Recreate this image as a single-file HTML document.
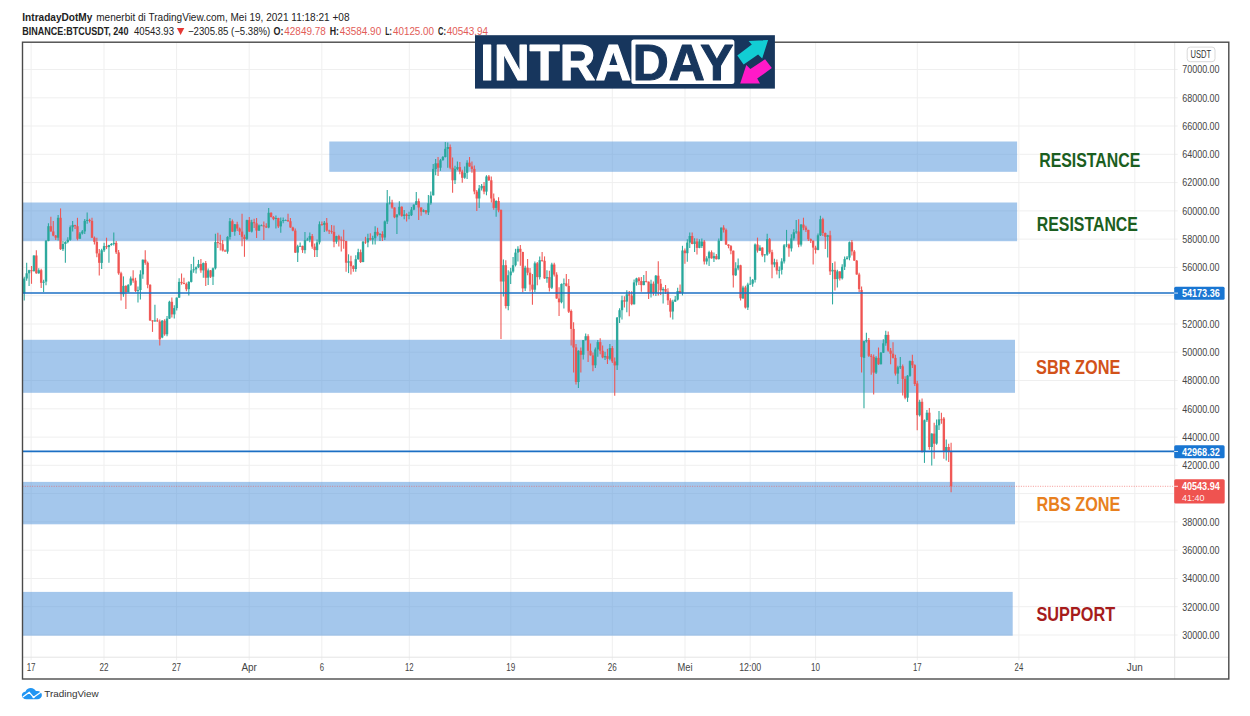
<!DOCTYPE html>
<html><head><meta charset="utf-8"><title>BTCUSDT chart</title>
<style>
html,body{margin:0;padding:0;background:#fff;}
body{width:1250px;height:716px;overflow:hidden;font-family:"Liberation Sans",sans-serif;}
svg{display:block;font-family:"Liberation Sans",sans-serif;}
.ax{font-size:10px;fill:#454545;}
.hd{font-size:10.4px;fill:#222;}
.b{font-weight:bold;}
.rd{fill:#e25c57;}
.lbl{font-weight:bold;font-size:19.3px;}
</style></head><body>
<svg width="1250" height="716" viewBox="0 0 1250 716">
<rect width="1250" height="716" fill="#fff"/>

<g stroke="#efefef" stroke-width="1">
<line x1="31.1" y1="42.2" x2="31.1" y2="660.2"/>
<line x1="104.0" y1="42.2" x2="104.0" y2="660.2"/>
<line x1="176.6" y1="42.2" x2="176.6" y2="660.2"/>
<line x1="249.2" y1="42.2" x2="249.2" y2="660.2"/>
<line x1="321.8" y1="42.2" x2="321.8" y2="660.2"/>
<line x1="409.3" y1="42.2" x2="409.3" y2="660.2"/>
<line x1="510.8" y1="42.2" x2="510.8" y2="660.2"/>
<line x1="612.3" y1="42.2" x2="612.3" y2="660.2"/>
<line x1="685.0" y1="42.2" x2="685.0" y2="660.2"/>
<line x1="750.2" y1="42.2" x2="750.2" y2="660.2"/>
<line x1="815.6" y1="42.2" x2="815.6" y2="660.2"/>
<line x1="917.3" y1="42.2" x2="917.3" y2="660.2"/>
<line x1="1018.9" y1="42.2" x2="1018.9" y2="660.2"/>
<line x1="1134.8" y1="42.2" x2="1134.8" y2="660.2"/>
<line x1="22.5" y1="69.5" x2="1177.7" y2="69.5"/>
<line x1="22.5" y1="97.8" x2="1177.7" y2="97.8"/>
<line x1="22.5" y1="126.0" x2="1177.7" y2="126.0"/>
<line x1="22.5" y1="154.3" x2="1177.7" y2="154.3"/>
<line x1="22.5" y1="182.6" x2="1177.7" y2="182.6"/>
<line x1="22.5" y1="210.9" x2="1177.7" y2="210.9"/>
<line x1="22.5" y1="239.1" x2="1177.7" y2="239.1"/>
<line x1="22.5" y1="267.4" x2="1177.7" y2="267.4"/>
<line x1="22.5" y1="295.7" x2="1177.7" y2="295.7"/>
<line x1="22.5" y1="324.0" x2="1177.7" y2="324.0"/>
<line x1="22.5" y1="352.2" x2="1177.7" y2="352.2"/>
<line x1="22.5" y1="380.5" x2="1177.7" y2="380.5"/>
<line x1="22.5" y1="408.8" x2="1177.7" y2="408.8"/>
<line x1="22.5" y1="437.1" x2="1177.7" y2="437.1"/>
<line x1="22.5" y1="465.3" x2="1177.7" y2="465.3"/>
<line x1="22.5" y1="493.6" x2="1177.7" y2="493.6"/>
<line x1="22.5" y1="521.9" x2="1177.7" y2="521.9"/>
<line x1="22.5" y1="550.2" x2="1177.7" y2="550.2"/>
<line x1="22.5" y1="578.5" x2="1177.7" y2="578.5"/>
<line x1="22.5" y1="606.7" x2="1177.7" y2="606.7"/>
<line x1="22.5" y1="635.0" x2="1177.7" y2="635.0"/>
</g>
<g stroke="#e4e4e4" stroke-width="1"><line x1="1174.7" y1="42.2" x2="1174.7" y2="679.0"/><line x1="22.5" y1="657.2" x2="1228.8" y2="657.2"/></g>
<g fill="#4a8fd9" fill-opacity="0.5">
<rect x="329.3" y="141.5" width="687.8" height="30.3"/>
<rect x="23" y="202.5" width="994.1" height="38.7"/>
<rect x="23" y="339.8" width="992.0" height="53.0"/>
<rect x="23" y="481.9" width="992.0" height="42.4"/>
<rect x="23" y="591.9" width="989.7" height="43.8"/>
</g>
<g stroke-width="1.1" stroke-opacity="0.95"><line x1="24.24" y1="276.8" x2="24.24" y2="300.5" stroke="#26a69a"/><line x1="26.66" y1="262.8" x2="26.66" y2="280.7" stroke="#26a69a"/><line x1="29.08" y1="269.8" x2="29.08" y2="285.9" stroke="#26a69a"/><line x1="31.50" y1="266.0" x2="31.50" y2="283.8" stroke="#ef5350"/><line x1="33.92" y1="255.3" x2="33.92" y2="271.5" stroke="#26a69a"/><line x1="36.34" y1="250.3" x2="36.34" y2="273.8" stroke="#ef5350"/><line x1="38.76" y1="268.3" x2="38.76" y2="273.8" stroke="#26a69a"/><line x1="41.18" y1="268.8" x2="41.18" y2="288.0" stroke="#ef5350"/><line x1="43.60" y1="279.7" x2="43.60" y2="292.1" stroke="#26a69a"/><line x1="46.02" y1="240.1" x2="46.02" y2="285.2" stroke="#26a69a"/><line x1="48.44" y1="223.3" x2="48.44" y2="241.2" stroke="#26a69a"/><line x1="50.86" y1="216.8" x2="50.86" y2="231.7" stroke="#ef5350"/><line x1="53.28" y1="220.9" x2="53.28" y2="236.2" stroke="#ef5350"/><line x1="55.70" y1="234.9" x2="55.70" y2="240.1" stroke="#ef5350"/><line x1="58.12" y1="215.0" x2="58.12" y2="240.5" stroke="#26a69a"/><line x1="60.54" y1="208.4" x2="60.54" y2="249.9" stroke="#ef5350"/><line x1="62.96" y1="240.9" x2="62.96" y2="251.1" stroke="#26a69a"/><line x1="65.38" y1="241.2" x2="65.38" y2="262.8" stroke="#26a69a"/><line x1="67.80" y1="237.2" x2="67.80" y2="243.2" stroke="#26a69a"/><line x1="70.22" y1="225.4" x2="70.22" y2="240.7" stroke="#26a69a"/><line x1="72.64" y1="220.9" x2="72.64" y2="231.5" stroke="#26a69a"/><line x1="75.06" y1="224.8" x2="75.06" y2="228.9" stroke="#ef5350"/><line x1="77.48" y1="217.8" x2="77.48" y2="240.3" stroke="#ef5350"/><line x1="79.90" y1="232.1" x2="79.90" y2="238.9" stroke="#26a69a"/><line x1="82.32" y1="229.9" x2="82.32" y2="234.5" stroke="#26a69a"/><line x1="84.74" y1="219.1" x2="84.74" y2="234.0" stroke="#26a69a"/><line x1="87.16" y1="212.6" x2="87.16" y2="223.8" stroke="#26a69a"/><line x1="89.58" y1="218.7" x2="89.58" y2="222.4" stroke="#ef5350"/><line x1="92.00" y1="217.7" x2="92.00" y2="238.0" stroke="#ef5350"/><line x1="94.42" y1="236.4" x2="94.42" y2="244.4" stroke="#ef5350"/><line x1="96.84" y1="237.8" x2="96.84" y2="257.2" stroke="#ef5350"/><line x1="99.26" y1="249.0" x2="99.26" y2="275.4" stroke="#ef5350"/><line x1="101.68" y1="248.7" x2="101.68" y2="269.1" stroke="#26a69a"/><line x1="104.10" y1="242.8" x2="104.10" y2="252.1" stroke="#26a69a"/><line x1="106.52" y1="237.7" x2="106.52" y2="249.1" stroke="#ef5350"/><line x1="108.94" y1="244.8" x2="108.94" y2="262.8" stroke="#26a69a"/><line x1="111.36" y1="243.0" x2="111.36" y2="245.7" stroke="#26a69a"/><line x1="113.78" y1="232.5" x2="113.78" y2="245.4" stroke="#26a69a"/><line x1="116.20" y1="241.1" x2="116.20" y2="254.1" stroke="#ef5350"/><line x1="118.62" y1="249.9" x2="118.62" y2="274.8" stroke="#ef5350"/><line x1="121.04" y1="271.8" x2="121.04" y2="300.5" stroke="#ef5350"/><line x1="123.46" y1="276.4" x2="123.46" y2="296.8" stroke="#26a69a"/><line x1="125.88" y1="285.3" x2="125.88" y2="308.9" stroke="#ef5350"/><line x1="128.30" y1="284.2" x2="128.30" y2="292.6" stroke="#26a69a"/><line x1="130.72" y1="276.4" x2="130.72" y2="285.7" stroke="#26a69a"/><line x1="133.14" y1="270.2" x2="133.14" y2="282.7" stroke="#ef5350"/><line x1="135.56" y1="277.8" x2="135.56" y2="291.9" stroke="#ef5350"/><line x1="137.98" y1="286.5" x2="137.98" y2="302.6" stroke="#26a69a"/><line x1="140.40" y1="270.3" x2="140.40" y2="299.5" stroke="#26a69a"/><line x1="142.82" y1="259.4" x2="142.82" y2="278.7" stroke="#26a69a"/><line x1="145.24" y1="250.3" x2="145.24" y2="264.7" stroke="#ef5350"/><line x1="147.66" y1="261.4" x2="147.66" y2="288.2" stroke="#ef5350"/><line x1="150.08" y1="284.3" x2="150.08" y2="321.1" stroke="#ef5350"/><line x1="152.50" y1="320.2" x2="152.50" y2="331.9" stroke="#ef5350"/><line x1="154.92" y1="304.7" x2="154.92" y2="321.7" stroke="#26a69a"/><line x1="157.34" y1="318.3" x2="157.34" y2="321.8" stroke="#ef5350"/><line x1="159.76" y1="319.6" x2="159.76" y2="345.5" stroke="#ef5350"/><line x1="162.18" y1="319.9" x2="162.18" y2="338.2" stroke="#26a69a"/><line x1="164.60" y1="319.2" x2="164.60" y2="335.7" stroke="#ef5350"/><line x1="167.02" y1="315.9" x2="167.02" y2="336.2" stroke="#26a69a"/><line x1="169.44" y1="300.8" x2="169.44" y2="318.9" stroke="#26a69a"/><line x1="171.86" y1="297.6" x2="171.86" y2="317.4" stroke="#ef5350"/><line x1="174.28" y1="305.3" x2="174.28" y2="318.6" stroke="#26a69a"/><line x1="176.70" y1="297.4" x2="176.70" y2="310.5" stroke="#26a69a"/><line x1="179.12" y1="278.2" x2="179.12" y2="297.9" stroke="#26a69a"/><line x1="181.54" y1="273.5" x2="181.54" y2="284.7" stroke="#ef5350"/><line x1="183.96" y1="277.7" x2="183.96" y2="284.3" stroke="#ef5350"/><line x1="186.38" y1="282.6" x2="186.38" y2="291.3" stroke="#ef5350"/><line x1="188.80" y1="281.3" x2="188.80" y2="295.5" stroke="#26a69a"/><line x1="191.22" y1="264.1" x2="191.22" y2="282.6" stroke="#26a69a"/><line x1="193.64" y1="256.8" x2="193.64" y2="272.8" stroke="#26a69a"/><line x1="196.06" y1="266.5" x2="196.06" y2="273.5" stroke="#26a69a"/><line x1="198.48" y1="259.9" x2="198.48" y2="268.1" stroke="#26a69a"/><line x1="200.90" y1="258.9" x2="200.90" y2="272.7" stroke="#ef5350"/><line x1="203.32" y1="262.5" x2="203.32" y2="277.7" stroke="#26a69a"/><line x1="205.74" y1="261.0" x2="205.74" y2="286.1" stroke="#ef5350"/><line x1="208.16" y1="268.6" x2="208.16" y2="285.1" stroke="#26a69a"/><line x1="210.58" y1="270.0" x2="210.58" y2="278.0" stroke="#ef5350"/><line x1="213.00" y1="267.5" x2="213.00" y2="285.1" stroke="#26a69a"/><line x1="215.42" y1="233.7" x2="215.42" y2="269.6" stroke="#26a69a"/><line x1="217.84" y1="232.7" x2="217.84" y2="247.9" stroke="#ef5350"/><line x1="220.26" y1="234.8" x2="220.26" y2="250.5" stroke="#ef5350"/><line x1="222.68" y1="240.0" x2="222.68" y2="251.5" stroke="#ef5350"/><line x1="225.10" y1="249.5" x2="225.10" y2="251.8" stroke="#ef5350"/><line x1="227.52" y1="236.2" x2="227.52" y2="253.7" stroke="#26a69a"/><line x1="229.94" y1="217.9" x2="229.94" y2="239.4" stroke="#26a69a"/><line x1="232.36" y1="219.6" x2="232.36" y2="232.0" stroke="#ef5350"/><line x1="234.78" y1="224.0" x2="234.78" y2="235.8" stroke="#26a69a"/><line x1="237.20" y1="221.8" x2="237.20" y2="230.9" stroke="#ef5350"/><line x1="239.62" y1="227.5" x2="239.62" y2="235.0" stroke="#ef5350"/><line x1="242.04" y1="213.8" x2="242.04" y2="246.3" stroke="#ef5350"/><line x1="244.46" y1="234.6" x2="244.46" y2="256.8" stroke="#ef5350"/><line x1="246.88" y1="219.8" x2="246.88" y2="239.9" stroke="#26a69a"/><line x1="249.30" y1="217.0" x2="249.30" y2="231.9" stroke="#ef5350"/><line x1="251.72" y1="219.8" x2="251.72" y2="232.4" stroke="#26a69a"/><line x1="254.14" y1="218.7" x2="254.14" y2="227.9" stroke="#ef5350"/><line x1="256.56" y1="218.0" x2="256.56" y2="237.9" stroke="#ef5350"/><line x1="258.98" y1="224.6" x2="258.98" y2="231.1" stroke="#26a69a"/><line x1="261.40" y1="224.6" x2="261.40" y2="226.1" stroke="#26a69a"/><line x1="263.82" y1="221.4" x2="263.82" y2="240.0" stroke="#ef5350"/><line x1="266.24" y1="223.3" x2="266.24" y2="228.1" stroke="#ef5350"/><line x1="268.66" y1="208.0" x2="268.66" y2="228.3" stroke="#26a69a"/><line x1="271.08" y1="212.3" x2="271.08" y2="217.6" stroke="#ef5350"/><line x1="273.50" y1="216.1" x2="273.50" y2="220.2" stroke="#ef5350"/><line x1="275.92" y1="215.6" x2="275.92" y2="228.5" stroke="#26a69a"/><line x1="278.34" y1="217.7" x2="278.34" y2="228.1" stroke="#ef5350"/><line x1="280.76" y1="217.4" x2="280.76" y2="232.7" stroke="#26a69a"/><line x1="283.18" y1="217.6" x2="283.18" y2="223.2" stroke="#26a69a"/><line x1="285.60" y1="219.4" x2="285.60" y2="220.6" stroke="#26a69a"/><line x1="288.02" y1="213.8" x2="288.02" y2="221.9" stroke="#ef5350"/><line x1="290.44" y1="218.0" x2="290.44" y2="227.8" stroke="#ef5350"/><line x1="292.86" y1="226.7" x2="292.86" y2="231.2" stroke="#ef5350"/><line x1="295.28" y1="228.5" x2="295.28" y2="252.9" stroke="#ef5350"/><line x1="297.70" y1="244.8" x2="297.70" y2="262.0" stroke="#26a69a"/><line x1="300.12" y1="242.5" x2="300.12" y2="246.8" stroke="#26a69a"/><line x1="302.54" y1="245.6" x2="302.54" y2="252.9" stroke="#ef5350"/><line x1="304.96" y1="231.9" x2="304.96" y2="253.6" stroke="#26a69a"/><line x1="307.38" y1="237.8" x2="307.38" y2="240.6" stroke="#26a69a"/><line x1="309.80" y1="232.6" x2="309.80" y2="242.3" stroke="#26a69a"/><line x1="312.22" y1="234.0" x2="312.22" y2="248.7" stroke="#ef5350"/><line x1="314.64" y1="243.5" x2="314.64" y2="257.1" stroke="#ef5350"/><line x1="317.06" y1="239.6" x2="317.06" y2="257.1" stroke="#26a69a"/><line x1="319.48" y1="221.4" x2="319.48" y2="244.4" stroke="#26a69a"/><line x1="321.90" y1="221.4" x2="321.90" y2="225.7" stroke="#ef5350"/><line x1="324.32" y1="221.1" x2="324.32" y2="231.9" stroke="#26a69a"/><line x1="326.74" y1="217.9" x2="326.74" y2="231.4" stroke="#ef5350"/><line x1="329.16" y1="229.8" x2="329.16" y2="234.0" stroke="#ef5350"/><line x1="331.58" y1="224.9" x2="331.58" y2="233.8" stroke="#ef5350"/><line x1="334.00" y1="225.6" x2="334.00" y2="247.3" stroke="#ef5350"/><line x1="336.42" y1="235.8" x2="336.42" y2="243.8" stroke="#26a69a"/><line x1="338.84" y1="234.7" x2="338.84" y2="246.6" stroke="#ef5350"/><line x1="341.26" y1="236.5" x2="341.26" y2="251.5" stroke="#ef5350"/><line x1="343.68" y1="229.8" x2="343.68" y2="248.7" stroke="#ef5350"/><line x1="346.10" y1="240.7" x2="346.10" y2="271.7" stroke="#ef5350"/><line x1="348.52" y1="254.3" x2="348.52" y2="273.1" stroke="#26a69a"/><line x1="350.94" y1="255.7" x2="350.94" y2="274.5" stroke="#ef5350"/><line x1="353.36" y1="265.2" x2="353.36" y2="271.7" stroke="#ef5350"/><line x1="355.78" y1="255.2" x2="355.78" y2="271.7" stroke="#26a69a"/><line x1="358.20" y1="248.7" x2="358.20" y2="259.8" stroke="#26a69a"/><line x1="360.62" y1="249.4" x2="360.62" y2="262.9" stroke="#ef5350"/><line x1="363.04" y1="240.9" x2="363.04" y2="262.2" stroke="#26a69a"/><line x1="365.46" y1="236.8" x2="365.46" y2="243.9" stroke="#ef5350"/><line x1="367.88" y1="233.8" x2="367.88" y2="247.3" stroke="#26a69a"/><line x1="370.30" y1="233.3" x2="370.30" y2="240.4" stroke="#ef5350"/><line x1="372.72" y1="235.7" x2="372.72" y2="244.5" stroke="#26a69a"/><line x1="375.14" y1="226.3" x2="375.14" y2="244.5" stroke="#26a69a"/><line x1="377.56" y1="227.7" x2="377.56" y2="236.3" stroke="#ef5350"/><line x1="379.98" y1="233.0" x2="379.98" y2="241.0" stroke="#26a69a"/><line x1="382.40" y1="231.2" x2="382.40" y2="241.0" stroke="#ef5350"/><line x1="384.82" y1="220.5" x2="384.82" y2="240.1" stroke="#26a69a"/><line x1="387.24" y1="190.0" x2="387.24" y2="223.9" stroke="#26a69a"/><line x1="389.66" y1="196.3" x2="389.66" y2="204.6" stroke="#26a69a"/><line x1="392.08" y1="199.8" x2="392.08" y2="208.8" stroke="#ef5350"/><line x1="394.50" y1="207.3" x2="394.50" y2="218.2" stroke="#ef5350"/><line x1="396.92" y1="214.3" x2="396.92" y2="234.0" stroke="#26a69a"/><line x1="399.34" y1="201.2" x2="399.34" y2="215.4" stroke="#26a69a"/><line x1="401.76" y1="206.2" x2="401.76" y2="216.7" stroke="#ef5350"/><line x1="404.18" y1="210.1" x2="404.18" y2="219.3" stroke="#26a69a"/><line x1="406.60" y1="213.2" x2="406.60" y2="221.4" stroke="#ef5350"/><line x1="409.02" y1="211.7" x2="409.02" y2="219.3" stroke="#26a69a"/><line x1="411.44" y1="206.9" x2="411.44" y2="216.1" stroke="#26a69a"/><line x1="413.86" y1="204.3" x2="413.86" y2="210.2" stroke="#26a69a"/><line x1="416.28" y1="192.1" x2="416.28" y2="204.9" stroke="#26a69a"/><line x1="418.70" y1="198.4" x2="418.70" y2="220.0" stroke="#ef5350"/><line x1="421.12" y1="207.2" x2="421.12" y2="215.8" stroke="#ef5350"/><line x1="423.54" y1="209.3" x2="423.54" y2="212.2" stroke="#26a69a"/><line x1="425.96" y1="210.0" x2="425.96" y2="214.2" stroke="#ef5350"/><line x1="428.38" y1="194.9" x2="428.38" y2="214.9" stroke="#26a69a"/><line x1="430.80" y1="191.4" x2="430.80" y2="204.7" stroke="#26a69a"/><line x1="433.22" y1="163.9" x2="433.22" y2="195.6" stroke="#26a69a"/><line x1="435.64" y1="158.9" x2="435.64" y2="175.2" stroke="#26a69a"/><line x1="438.06" y1="157.0" x2="438.06" y2="175.9" stroke="#ef5350"/><line x1="440.48" y1="158.9" x2="440.48" y2="170.8" stroke="#26a69a"/><line x1="442.90" y1="156.1" x2="442.90" y2="160.8" stroke="#26a69a"/><line x1="445.32" y1="141.9" x2="445.32" y2="157.6" stroke="#26a69a"/><line x1="447.74" y1="142.6" x2="447.74" y2="167.7" stroke="#26a69a"/><line x1="450.16" y1="144.4" x2="450.16" y2="169.2" stroke="#ef5350"/><line x1="452.58" y1="157.6" x2="452.58" y2="192.8" stroke="#ef5350"/><line x1="455.00" y1="165.8" x2="455.00" y2="184.0" stroke="#26a69a"/><line x1="457.42" y1="161.4" x2="457.42" y2="170.2" stroke="#26a69a"/><line x1="459.84" y1="162.0" x2="459.84" y2="174.3" stroke="#ef5350"/><line x1="462.26" y1="169.8" x2="462.26" y2="182.8" stroke="#ef5350"/><line x1="464.68" y1="166.4" x2="464.68" y2="178.7" stroke="#26a69a"/><line x1="467.10" y1="160.2" x2="467.10" y2="179.0" stroke="#26a69a"/><line x1="469.52" y1="157.0" x2="469.52" y2="166.7" stroke="#ef5350"/><line x1="471.94" y1="161.4" x2="471.94" y2="172.7" stroke="#ef5350"/><line x1="474.36" y1="165.4" x2="474.36" y2="194.2" stroke="#ef5350"/><line x1="476.78" y1="190.1" x2="476.78" y2="211.0" stroke="#ef5350"/><line x1="479.20" y1="185.0" x2="479.20" y2="207.9" stroke="#26a69a"/><line x1="481.62" y1="184.0" x2="481.62" y2="190.5" stroke="#26a69a"/><line x1="484.04" y1="182.1" x2="484.04" y2="194.2" stroke="#ef5350"/><line x1="486.46" y1="175.2" x2="486.46" y2="195.3" stroke="#26a69a"/><line x1="488.88" y1="175.0" x2="488.88" y2="180.9" stroke="#ef5350"/><line x1="491.30" y1="176.5" x2="491.30" y2="202.6" stroke="#ef5350"/><line x1="493.72" y1="193.4" x2="493.72" y2="209.8" stroke="#ef5350"/><line x1="496.14" y1="200.3" x2="496.14" y2="216.7" stroke="#26a69a"/><line x1="498.56" y1="197.2" x2="498.56" y2="212.2" stroke="#ef5350"/><line x1="500.98" y1="209.4" x2="500.98" y2="339.0" stroke="#ef5350"/><line x1="503.40" y1="259.5" x2="503.40" y2="296.6" stroke="#26a69a"/><line x1="505.82" y1="260.2" x2="505.82" y2="308.5" stroke="#ef5350"/><line x1="508.24" y1="270.2" x2="508.24" y2="310.2" stroke="#26a69a"/><line x1="510.66" y1="267.7" x2="510.66" y2="284.0" stroke="#26a69a"/><line x1="513.08" y1="257.0" x2="513.08" y2="272.7" stroke="#26a69a"/><line x1="515.50" y1="248.8" x2="515.50" y2="266.5" stroke="#26a69a"/><line x1="517.92" y1="246.3" x2="517.92" y2="261.4" stroke="#26a69a"/><line x1="520.34" y1="245.1" x2="520.34" y2="265.8" stroke="#ef5350"/><line x1="522.76" y1="251.8" x2="522.76" y2="292.2" stroke="#ef5350"/><line x1="525.18" y1="265.8" x2="525.18" y2="290.9" stroke="#26a69a"/><line x1="527.60" y1="258.9" x2="527.60" y2="275.2" stroke="#ef5350"/><line x1="530.02" y1="268.0" x2="530.02" y2="291.6" stroke="#ef5350"/><line x1="532.44" y1="274.0" x2="532.44" y2="304.7" stroke="#ef5350"/><line x1="534.86" y1="261.4" x2="534.86" y2="291.9" stroke="#26a69a"/><line x1="537.28" y1="262.0" x2="537.28" y2="285.3" stroke="#ef5350"/><line x1="539.70" y1="256.4" x2="539.70" y2="279.6" stroke="#26a69a"/><line x1="542.12" y1="252.0" x2="542.12" y2="261.7" stroke="#ef5350"/><line x1="544.54" y1="256.4" x2="544.54" y2="278.9" stroke="#ef5350"/><line x1="546.96" y1="270.2" x2="546.96" y2="282.8" stroke="#26a69a"/><line x1="549.38" y1="270.8" x2="549.38" y2="291.6" stroke="#ef5350"/><line x1="551.80" y1="262.7" x2="551.80" y2="289.1" stroke="#26a69a"/><line x1="554.22" y1="262.7" x2="554.22" y2="276.4" stroke="#ef5350"/><line x1="556.64" y1="272.2" x2="556.64" y2="298.8" stroke="#ef5350"/><line x1="559.06" y1="287.2" x2="559.06" y2="316.1" stroke="#ef5350"/><line x1="561.48" y1="283.4" x2="561.48" y2="303.3" stroke="#26a69a"/><line x1="563.90" y1="278.4" x2="563.90" y2="308.5" stroke="#26a69a"/><line x1="566.32" y1="274.0" x2="566.32" y2="286.4" stroke="#ef5350"/><line x1="568.74" y1="279.0" x2="568.74" y2="313.1" stroke="#ef5350"/><line x1="571.16" y1="309.6" x2="571.16" y2="345.5" stroke="#ef5350"/><line x1="573.58" y1="322.2" x2="573.58" y2="372.6" stroke="#ef5350"/><line x1="576.00" y1="344.1" x2="576.00" y2="384.6" stroke="#ef5350"/><line x1="578.42" y1="350.2" x2="578.42" y2="387.9" stroke="#26a69a"/><line x1="580.84" y1="347.4" x2="580.84" y2="372.6" stroke="#ef5350"/><line x1="583.26" y1="339.9" x2="583.26" y2="359.4" stroke="#26a69a"/><line x1="585.68" y1="333.5" x2="585.68" y2="340.4" stroke="#26a69a"/><line x1="588.10" y1="334.3" x2="588.10" y2="362.0" stroke="#ef5350"/><line x1="590.52" y1="343.5" x2="590.52" y2="355.6" stroke="#ef5350"/><line x1="592.94" y1="352.4" x2="592.94" y2="371.3" stroke="#ef5350"/><line x1="595.36" y1="347.4" x2="595.36" y2="368.0" stroke="#26a69a"/><line x1="597.78" y1="340.1" x2="597.78" y2="356.7" stroke="#26a69a"/><line x1="600.20" y1="338.2" x2="600.20" y2="354.3" stroke="#ef5350"/><line x1="602.62" y1="345.5" x2="602.62" y2="358.2" stroke="#ef5350"/><line x1="605.04" y1="351.8" x2="605.04" y2="359.9" stroke="#26a69a"/><line x1="607.46" y1="348.8" x2="607.46" y2="364.0" stroke="#ef5350"/><line x1="609.88" y1="344.1" x2="609.88" y2="360.3" stroke="#26a69a"/><line x1="612.30" y1="346.1" x2="612.30" y2="362.9" stroke="#ef5350"/><line x1="614.72" y1="357.5" x2="614.72" y2="395.8" stroke="#ef5350"/><line x1="617.14" y1="317.1" x2="617.14" y2="370.0" stroke="#26a69a"/><line x1="619.56" y1="308.2" x2="619.56" y2="323.0" stroke="#26a69a"/><line x1="621.98" y1="295.7" x2="621.98" y2="319.5" stroke="#26a69a"/><line x1="624.40" y1="296.3" x2="624.40" y2="307.6" stroke="#ef5350"/><line x1="626.82" y1="290.3" x2="626.82" y2="312.2" stroke="#26a69a"/><line x1="629.24" y1="290.9" x2="629.24" y2="316.2" stroke="#ef5350"/><line x1="631.66" y1="291.3" x2="631.66" y2="305.2" stroke="#ef5350"/><line x1="634.08" y1="279.6" x2="634.08" y2="304.6" stroke="#26a69a"/><line x1="636.50" y1="277.7" x2="636.50" y2="285.6" stroke="#26a69a"/><line x1="638.92" y1="277.1" x2="638.92" y2="285.1" stroke="#ef5350"/><line x1="641.34" y1="277.1" x2="641.34" y2="291.7" stroke="#ef5350"/><line x1="643.76" y1="275.1" x2="643.76" y2="285.2" stroke="#26a69a"/><line x1="646.18" y1="271.1" x2="646.18" y2="282.5" stroke="#ef5350"/><line x1="648.60" y1="281.5" x2="648.60" y2="299.0" stroke="#ef5350"/><line x1="651.02" y1="279.7" x2="651.02" y2="297.6" stroke="#26a69a"/><line x1="653.44" y1="281.6" x2="653.44" y2="295.4" stroke="#ef5350"/><line x1="655.86" y1="275.1" x2="655.86" y2="296.0" stroke="#26a69a"/><line x1="658.28" y1="261.2" x2="658.28" y2="295.6" stroke="#ef5350"/><line x1="660.70" y1="279.1" x2="660.70" y2="295.0" stroke="#ef5350"/><line x1="663.12" y1="287.3" x2="663.12" y2="303.6" stroke="#26a69a"/><line x1="665.54" y1="285.0" x2="665.54" y2="294.0" stroke="#ef5350"/><line x1="667.96" y1="288.3" x2="667.96" y2="304.9" stroke="#ef5350"/><line x1="670.38" y1="298.3" x2="670.38" y2="317.5" stroke="#ef5350"/><line x1="672.80" y1="299.7" x2="672.80" y2="319.5" stroke="#26a69a"/><line x1="675.22" y1="296.1" x2="675.22" y2="301.9" stroke="#26a69a"/><line x1="677.64" y1="287.7" x2="677.64" y2="300.4" stroke="#26a69a"/><line x1="680.06" y1="284.4" x2="680.06" y2="293.6" stroke="#ef5350"/><line x1="682.48" y1="245.8" x2="682.48" y2="295.4" stroke="#26a69a"/><line x1="684.90" y1="248.6" x2="684.90" y2="263.8" stroke="#ef5350"/><line x1="687.32" y1="239.3" x2="687.32" y2="261.8" stroke="#26a69a"/><line x1="689.74" y1="232.6" x2="689.74" y2="247.9" stroke="#26a69a"/><line x1="692.16" y1="232.6" x2="692.16" y2="244.2" stroke="#ef5350"/><line x1="694.58" y1="238.2" x2="694.58" y2="251.9" stroke="#26a69a"/><line x1="697.00" y1="238.6" x2="697.00" y2="254.5" stroke="#ef5350"/><line x1="699.42" y1="239.3" x2="699.42" y2="248.2" stroke="#26a69a"/><line x1="701.84" y1="238.6" x2="701.84" y2="248.1" stroke="#26a69a"/><line x1="704.26" y1="240.0" x2="704.26" y2="264.6" stroke="#ef5350"/><line x1="706.68" y1="256.3" x2="706.68" y2="264.5" stroke="#26a69a"/><line x1="709.10" y1="250.8" x2="709.10" y2="266.0" stroke="#26a69a"/><line x1="711.52" y1="250.4" x2="711.52" y2="258.7" stroke="#ef5350"/><line x1="713.94" y1="252.5" x2="713.94" y2="262.0" stroke="#26a69a"/><line x1="716.36" y1="254.1" x2="716.36" y2="259.5" stroke="#ef5350"/><line x1="718.78" y1="238.5" x2="718.78" y2="259.5" stroke="#26a69a"/><line x1="721.20" y1="227.4" x2="721.20" y2="241.0" stroke="#26a69a"/><line x1="723.62" y1="225.3" x2="723.62" y2="232.6" stroke="#ef5350"/><line x1="726.04" y1="228.4" x2="726.04" y2="245.1" stroke="#ef5350"/><line x1="728.46" y1="244.3" x2="728.46" y2="248.3" stroke="#ef5350"/><line x1="730.88" y1="245.1" x2="730.88" y2="254.3" stroke="#ef5350"/><line x1="733.30" y1="250.4" x2="733.30" y2="287.5" stroke="#ef5350"/><line x1="735.72" y1="262.2" x2="735.72" y2="276.0" stroke="#26a69a"/><line x1="738.14" y1="258.4" x2="738.14" y2="270.2" stroke="#26a69a"/><line x1="740.56" y1="264.8" x2="740.56" y2="300.5" stroke="#ef5350"/><line x1="742.98" y1="285.8" x2="742.98" y2="299.0" stroke="#26a69a"/><line x1="745.40" y1="285.8" x2="745.40" y2="308.4" stroke="#ef5350"/><line x1="747.82" y1="282.8" x2="747.82" y2="310.0" stroke="#26a69a"/><line x1="750.24" y1="276.8" x2="750.24" y2="284.8" stroke="#26a69a"/><line x1="752.66" y1="279.0" x2="752.66" y2="286.8" stroke="#26a69a"/><line x1="755.08" y1="243.6" x2="755.08" y2="282.5" stroke="#26a69a"/><line x1="757.50" y1="237.6" x2="757.50" y2="252.6" stroke="#ef5350"/><line x1="759.92" y1="245.3" x2="759.92" y2="250.9" stroke="#26a69a"/><line x1="762.34" y1="247.3" x2="762.34" y2="256.8" stroke="#ef5350"/><line x1="764.76" y1="253.9" x2="764.76" y2="262.2" stroke="#26a69a"/><line x1="767.18" y1="233.8" x2="767.18" y2="255.8" stroke="#26a69a"/><line x1="769.60" y1="238.1" x2="769.60" y2="253.8" stroke="#ef5350"/><line x1="772.02" y1="249.7" x2="772.02" y2="278.3" stroke="#ef5350"/><line x1="774.44" y1="258.8" x2="774.44" y2="267.3" stroke="#26a69a"/><line x1="776.86" y1="259.6" x2="776.86" y2="274.5" stroke="#ef5350"/><line x1="779.28" y1="266.5" x2="779.28" y2="278.3" stroke="#26a69a"/><line x1="781.70" y1="258.3" x2="781.70" y2="274.4" stroke="#26a69a"/><line x1="784.12" y1="243.9" x2="784.12" y2="263.5" stroke="#26a69a"/><line x1="786.54" y1="229.9" x2="786.54" y2="247.2" stroke="#26a69a"/><line x1="788.96" y1="243.4" x2="788.96" y2="256.8" stroke="#ef5350"/><line x1="791.38" y1="234.2" x2="791.38" y2="251.4" stroke="#26a69a"/><line x1="793.80" y1="229.3" x2="793.80" y2="240.5" stroke="#26a69a"/><line x1="796.22" y1="220.0" x2="796.22" y2="233.7" stroke="#26a69a"/><line x1="798.64" y1="219.2" x2="798.64" y2="247.3" stroke="#ef5350"/><line x1="801.06" y1="223.9" x2="801.06" y2="246.6" stroke="#26a69a"/><line x1="803.48" y1="217.7" x2="803.48" y2="230.2" stroke="#ef5350"/><line x1="805.90" y1="225.8" x2="805.90" y2="232.1" stroke="#ef5350"/><line x1="808.32" y1="229.7" x2="808.32" y2="241.1" stroke="#ef5350"/><line x1="810.74" y1="238.5" x2="810.74" y2="242.9" stroke="#ef5350"/><line x1="813.16" y1="240.4" x2="813.16" y2="264.5" stroke="#ef5350"/><line x1="815.58" y1="245.8" x2="815.58" y2="253.6" stroke="#ef5350"/><line x1="818.00" y1="233.6" x2="818.00" y2="250.2" stroke="#26a69a"/><line x1="820.42" y1="215.7" x2="820.42" y2="236.1" stroke="#26a69a"/><line x1="822.84" y1="217.7" x2="822.84" y2="236.0" stroke="#ef5350"/><line x1="825.26" y1="232.5" x2="825.26" y2="249.1" stroke="#ef5350"/><line x1="827.68" y1="234.7" x2="827.68" y2="257.6" stroke="#26a69a"/><line x1="830.10" y1="230.7" x2="830.10" y2="274.9" stroke="#ef5350"/><line x1="832.52" y1="263.0" x2="832.52" y2="304.4" stroke="#26a69a"/><line x1="834.94" y1="261.4" x2="834.94" y2="290.6" stroke="#ef5350"/><line x1="837.36" y1="269.8" x2="837.36" y2="287.5" stroke="#26a69a"/><line x1="839.78" y1="271.2" x2="839.78" y2="280.6" stroke="#ef5350"/><line x1="842.20" y1="264.2" x2="842.20" y2="279.6" stroke="#26a69a"/><line x1="844.62" y1="256.6" x2="844.62" y2="270.1" stroke="#26a69a"/><line x1="847.04" y1="255.9" x2="847.04" y2="259.4" stroke="#26a69a"/><line x1="849.46" y1="241.5" x2="849.46" y2="260.3" stroke="#26a69a"/><line x1="851.88" y1="239.9" x2="851.88" y2="255.5" stroke="#ef5350"/><line x1="854.30" y1="250.0" x2="854.30" y2="260.8" stroke="#ef5350"/><line x1="856.72" y1="260.1" x2="856.72" y2="274.8" stroke="#ef5350"/><line x1="859.14" y1="272.7" x2="859.14" y2="292.1" stroke="#ef5350"/><line x1="861.56" y1="286.4" x2="861.56" y2="372.6" stroke="#ef5350"/><line x1="863.98" y1="341.0" x2="863.98" y2="408.2" stroke="#26a69a"/><line x1="866.40" y1="332.8" x2="866.40" y2="342.5" stroke="#26a69a"/><line x1="868.82" y1="338.0" x2="868.82" y2="356.9" stroke="#ef5350"/><line x1="871.24" y1="354.0" x2="871.24" y2="374.7" stroke="#ef5350"/><line x1="873.66" y1="354.5" x2="873.66" y2="394.6" stroke="#ef5350"/><line x1="876.08" y1="356.2" x2="876.08" y2="374.1" stroke="#26a69a"/><line x1="878.50" y1="347.5" x2="878.50" y2="364.9" stroke="#ef5350"/><line x1="880.92" y1="351.9" x2="880.92" y2="364.6" stroke="#26a69a"/><line x1="883.34" y1="339.3" x2="883.34" y2="352.9" stroke="#26a69a"/><line x1="885.76" y1="330.7" x2="885.76" y2="345.8" stroke="#26a69a"/><line x1="888.18" y1="331.5" x2="888.18" y2="351.7" stroke="#ef5350"/><line x1="890.60" y1="348.1" x2="890.60" y2="364.2" stroke="#ef5350"/><line x1="893.02" y1="342.2" x2="893.02" y2="358.6" stroke="#ef5350"/><line x1="895.44" y1="354.7" x2="895.44" y2="375.4" stroke="#ef5350"/><line x1="897.86" y1="365.8" x2="897.86" y2="384.1" stroke="#26a69a"/><line x1="900.28" y1="356.9" x2="900.28" y2="368.9" stroke="#26a69a"/><line x1="902.70" y1="364.4" x2="902.70" y2="395.6" stroke="#ef5350"/><line x1="905.12" y1="376.3" x2="905.12" y2="399.3" stroke="#ef5350"/><line x1="907.54" y1="375.1" x2="907.54" y2="401.9" stroke="#26a69a"/><line x1="909.96" y1="360.5" x2="909.96" y2="376.7" stroke="#26a69a"/><line x1="912.38" y1="354.8" x2="912.38" y2="367.9" stroke="#ef5350"/><line x1="914.80" y1="364.3" x2="914.80" y2="386.0" stroke="#ef5350"/><line x1="917.22" y1="380.8" x2="917.22" y2="430.3" stroke="#ef5350"/><line x1="919.64" y1="399.7" x2="919.64" y2="416.6" stroke="#26a69a"/><line x1="922.06" y1="398.4" x2="922.06" y2="452.4" stroke="#ef5350"/><line x1="924.48" y1="419.5" x2="924.48" y2="462.9" stroke="#26a69a"/><line x1="926.90" y1="410.1" x2="926.90" y2="422.1" stroke="#26a69a"/><line x1="929.32" y1="408.1" x2="929.32" y2="449.7" stroke="#ef5350"/><line x1="931.74" y1="433.3" x2="931.74" y2="465.4" stroke="#26a69a"/><line x1="934.16" y1="422.7" x2="934.16" y2="458.7" stroke="#ef5350"/><line x1="936.58" y1="419.4" x2="936.58" y2="444.7" stroke="#26a69a"/><line x1="939.00" y1="411.0" x2="939.00" y2="429.9" stroke="#26a69a"/><line x1="941.42" y1="412.7" x2="941.42" y2="423.7" stroke="#ef5350"/><line x1="943.84" y1="417.0" x2="943.84" y2="458.7" stroke="#ef5350"/><line x1="946.26" y1="439.5" x2="946.26" y2="460.4" stroke="#26a69a"/><line x1="948.68" y1="443.7" x2="948.68" y2="462.1" stroke="#ef5350"/><line x1="951.10" y1="442.8" x2="951.10" y2="492.2" stroke="#ef5350"/></g>
<g fill-opacity="0.92"><rect x="23.04" y="278.5" width="2.4" height="14.7" fill="#26a69a"/><rect x="25.46" y="273.3" width="2.4" height="5.2" fill="#26a69a"/><rect x="27.88" y="270.2" width="2.4" height="3.1" fill="#26a69a"/><rect x="30.30" y="270.2" width="2.4" height="1.0" fill="#ef5350"/><rect x="32.72" y="255.5" width="2.4" height="15.7" fill="#26a69a"/><rect x="35.14" y="255.5" width="2.4" height="17.8" fill="#ef5350"/><rect x="37.56" y="270.2" width="2.4" height="3.1" fill="#26a69a"/><rect x="39.98" y="270.2" width="2.4" height="12.6" fill="#ef5350"/><rect x="42.40" y="281.7" width="2.4" height="1.0" fill="#26a69a"/><rect x="44.82" y="240.8" width="2.4" height="40.8" fill="#26a69a"/><rect x="47.24" y="226.2" width="2.4" height="14.7" fill="#26a69a"/><rect x="49.66" y="226.2" width="2.4" height="5.2" fill="#ef5350"/><rect x="52.08" y="231.4" width="2.4" height="4.2" fill="#ef5350"/><rect x="54.50" y="235.6" width="2.4" height="2.1" fill="#ef5350"/><rect x="56.92" y="217.8" width="2.4" height="19.9" fill="#26a69a"/><rect x="59.34" y="217.8" width="2.4" height="31.4" fill="#ef5350"/><rect x="61.76" y="244.0" width="2.4" height="5.2" fill="#26a69a"/><rect x="64.18" y="241.9" width="2.4" height="2.1" fill="#26a69a"/><rect x="66.60" y="239.8" width="2.4" height="2.1" fill="#26a69a"/><rect x="69.02" y="227.2" width="2.4" height="12.6" fill="#26a69a"/><rect x="71.44" y="225.1" width="2.4" height="2.1" fill="#26a69a"/><rect x="73.86" y="225.1" width="2.4" height="1.0" fill="#ef5350"/><rect x="76.28" y="226.2" width="2.4" height="12.6" fill="#ef5350"/><rect x="78.70" y="233.5" width="2.4" height="5.2" fill="#26a69a"/><rect x="81.12" y="231.4" width="2.4" height="2.1" fill="#26a69a"/><rect x="83.54" y="220.9" width="2.4" height="10.5" fill="#26a69a"/><rect x="85.96" y="219.9" width="2.4" height="1.0" fill="#26a69a"/><rect x="88.38" y="219.9" width="2.4" height="1.0" fill="#ef5350"/><rect x="90.80" y="220.9" width="2.4" height="16.8" fill="#ef5350"/><rect x="93.22" y="237.7" width="2.4" height="4.2" fill="#ef5350"/><rect x="95.64" y="241.9" width="2.4" height="11.5" fill="#ef5350"/><rect x="98.06" y="253.4" width="2.4" height="9.4" fill="#ef5350"/><rect x="100.48" y="250.3" width="2.4" height="12.6" fill="#26a69a"/><rect x="102.90" y="246.1" width="2.4" height="4.2" fill="#26a69a"/><rect x="105.32" y="246.1" width="2.4" height="1.0" fill="#ef5350"/><rect x="107.74" y="245.0" width="2.4" height="2.1" fill="#26a69a"/><rect x="110.16" y="244.0" width="2.4" height="1.0" fill="#26a69a"/><rect x="112.58" y="242.9" width="2.4" height="1.0" fill="#26a69a"/><rect x="115.00" y="242.9" width="2.4" height="9.4" fill="#ef5350"/><rect x="117.42" y="252.4" width="2.4" height="20.9" fill="#ef5350"/><rect x="119.84" y="273.3" width="2.4" height="20.9" fill="#ef5350"/><rect x="122.26" y="285.9" width="2.4" height="8.4" fill="#26a69a"/><rect x="124.68" y="285.9" width="2.4" height="6.3" fill="#ef5350"/><rect x="127.10" y="284.8" width="2.4" height="7.3" fill="#26a69a"/><rect x="129.52" y="278.5" width="2.4" height="6.3" fill="#26a69a"/><rect x="131.94" y="278.5" width="2.4" height="2.1" fill="#ef5350"/><rect x="134.36" y="280.6" width="2.4" height="10.5" fill="#ef5350"/><rect x="136.78" y="290.1" width="2.4" height="1.0" fill="#26a69a"/><rect x="139.20" y="274.3" width="2.4" height="15.7" fill="#26a69a"/><rect x="141.62" y="259.7" width="2.4" height="14.7" fill="#26a69a"/><rect x="144.04" y="259.7" width="2.4" height="3.1" fill="#ef5350"/><rect x="146.46" y="262.8" width="2.4" height="22.0" fill="#ef5350"/><rect x="148.88" y="284.8" width="2.4" height="35.6" fill="#ef5350"/><rect x="151.30" y="320.4" width="2.4" height="1.0" fill="#ef5350"/><rect x="153.72" y="320.4" width="2.4" height="1.0" fill="#26a69a"/><rect x="156.14" y="320.4" width="2.4" height="1.0" fill="#ef5350"/><rect x="158.56" y="321.5" width="2.4" height="17.8" fill="#ef5350"/><rect x="160.98" y="320.7" width="2.4" height="16.8" fill="#26a69a"/><rect x="163.40" y="320.7" width="2.4" height="13.6" fill="#ef5350"/><rect x="165.82" y="318.6" width="2.4" height="15.7" fill="#26a69a"/><rect x="168.24" y="301.8" width="2.4" height="16.8" fill="#26a69a"/><rect x="170.66" y="301.8" width="2.4" height="12.6" fill="#ef5350"/><rect x="173.08" y="308.1" width="2.4" height="6.3" fill="#26a69a"/><rect x="175.50" y="297.6" width="2.4" height="10.5" fill="#26a69a"/><rect x="177.92" y="281.9" width="2.4" height="15.7" fill="#26a69a"/><rect x="180.34" y="281.9" width="2.4" height="1.0" fill="#ef5350"/><rect x="182.76" y="283.0" width="2.4" height="1.0" fill="#ef5350"/><rect x="185.18" y="284.0" width="2.4" height="5.2" fill="#ef5350"/><rect x="187.60" y="281.9" width="2.4" height="7.3" fill="#26a69a"/><rect x="190.02" y="270.4" width="2.4" height="11.5" fill="#26a69a"/><rect x="192.44" y="269.3" width="2.4" height="1.0" fill="#26a69a"/><rect x="194.86" y="267.3" width="2.4" height="2.1" fill="#26a69a"/><rect x="197.28" y="264.1" width="2.4" height="3.1" fill="#26a69a"/><rect x="199.70" y="264.1" width="2.4" height="6.3" fill="#ef5350"/><rect x="202.12" y="263.1" width="2.4" height="7.3" fill="#26a69a"/><rect x="204.54" y="263.1" width="2.4" height="14.7" fill="#ef5350"/><rect x="206.96" y="270.4" width="2.4" height="7.3" fill="#26a69a"/><rect x="209.38" y="270.4" width="2.4" height="6.3" fill="#ef5350"/><rect x="211.80" y="268.3" width="2.4" height="8.4" fill="#26a69a"/><rect x="214.22" y="242.1" width="2.4" height="26.2" fill="#26a69a"/><rect x="216.64" y="242.1" width="2.4" height="1.0" fill="#ef5350"/><rect x="219.06" y="243.2" width="2.4" height="1.0" fill="#ef5350"/><rect x="221.48" y="244.2" width="2.4" height="6.3" fill="#ef5350"/><rect x="223.90" y="250.5" width="2.4" height="1.0" fill="#ef5350"/><rect x="226.32" y="236.9" width="2.4" height="14.7" fill="#26a69a"/><rect x="228.74" y="221.2" width="2.4" height="15.7" fill="#26a69a"/><rect x="231.16" y="221.2" width="2.4" height="10.5" fill="#ef5350"/><rect x="233.58" y="224.3" width="2.4" height="7.3" fill="#26a69a"/><rect x="236.00" y="224.3" width="2.4" height="4.2" fill="#ef5350"/><rect x="238.42" y="228.5" width="2.4" height="3.1" fill="#ef5350"/><rect x="240.84" y="231.6" width="2.4" height="5.2" fill="#ef5350"/><rect x="243.26" y="236.9" width="2.4" height="2.1" fill="#ef5350"/><rect x="245.68" y="220.1" width="2.4" height="18.8" fill="#26a69a"/><rect x="248.10" y="220.1" width="2.4" height="11.5" fill="#ef5350"/><rect x="250.52" y="222.2" width="2.4" height="9.4" fill="#26a69a"/><rect x="252.94" y="222.2" width="2.4" height="1.0" fill="#ef5350"/><rect x="255.36" y="223.3" width="2.4" height="7.3" fill="#ef5350"/><rect x="257.78" y="225.4" width="2.4" height="5.2" fill="#26a69a"/><rect x="260.20" y="225.4" width="2.4" height="0.8" fill="#26a69a"/><rect x="262.62" y="225.4" width="2.4" height="1.0" fill="#ef5350"/><rect x="265.04" y="226.4" width="2.4" height="1.0" fill="#ef5350"/><rect x="267.46" y="212.8" width="2.4" height="14.7" fill="#26a69a"/><rect x="269.88" y="212.8" width="2.4" height="4.2" fill="#ef5350"/><rect x="272.30" y="217.0" width="2.4" height="2.1" fill="#ef5350"/><rect x="274.72" y="218.0" width="2.4" height="1.0" fill="#26a69a"/><rect x="277.14" y="218.0" width="2.4" height="8.4" fill="#ef5350"/><rect x="279.56" y="221.2" width="2.4" height="5.2" fill="#26a69a"/><rect x="281.98" y="220.1" width="2.4" height="1.0" fill="#26a69a"/><rect x="284.40" y="220.1" width="2.4" height="0.8" fill="#26a69a"/><rect x="286.82" y="220.1" width="2.4" height="1.0" fill="#ef5350"/><rect x="289.24" y="221.2" width="2.4" height="6.3" fill="#ef5350"/><rect x="291.66" y="227.5" width="2.4" height="3.1" fill="#ef5350"/><rect x="294.08" y="230.6" width="2.4" height="22.0" fill="#ef5350"/><rect x="296.50" y="246.3" width="2.4" height="6.3" fill="#26a69a"/><rect x="298.92" y="245.9" width="2.4" height="0.8" fill="#26a69a"/><rect x="301.34" y="245.9" width="2.4" height="4.2" fill="#ef5350"/><rect x="303.76" y="240.3" width="2.4" height="9.8" fill="#26a69a"/><rect x="306.18" y="239.6" width="2.4" height="0.8" fill="#26a69a"/><rect x="308.60" y="236.1" width="2.4" height="3.5" fill="#26a69a"/><rect x="311.02" y="236.1" width="2.4" height="10.5" fill="#ef5350"/><rect x="313.44" y="246.6" width="2.4" height="3.5" fill="#ef5350"/><rect x="315.86" y="242.4" width="2.4" height="7.7" fill="#26a69a"/><rect x="318.28" y="224.2" width="2.4" height="18.2" fill="#26a69a"/><rect x="320.70" y="224.2" width="2.4" height="0.8" fill="#ef5350"/><rect x="323.12" y="222.8" width="2.4" height="2.1" fill="#26a69a"/><rect x="325.54" y="222.8" width="2.4" height="7.7" fill="#ef5350"/><rect x="327.96" y="230.5" width="2.4" height="0.8" fill="#ef5350"/><rect x="330.38" y="231.2" width="2.4" height="0.8" fill="#ef5350"/><rect x="332.80" y="231.9" width="2.4" height="9.8" fill="#ef5350"/><rect x="335.22" y="236.1" width="2.4" height="5.6" fill="#26a69a"/><rect x="337.64" y="236.1" width="2.4" height="3.5" fill="#ef5350"/><rect x="340.06" y="239.6" width="2.4" height="0.8" fill="#ef5350"/><rect x="342.48" y="240.3" width="2.4" height="0.8" fill="#ef5350"/><rect x="344.90" y="241.0" width="2.4" height="21.7" fill="#ef5350"/><rect x="347.32" y="261.3" width="2.4" height="1.4" fill="#26a69a"/><rect x="349.74" y="261.3" width="2.4" height="4.9" fill="#ef5350"/><rect x="352.16" y="266.1" width="2.4" height="2.8" fill="#ef5350"/><rect x="354.58" y="259.2" width="2.4" height="9.8" fill="#26a69a"/><rect x="357.00" y="252.2" width="2.4" height="7.0" fill="#26a69a"/><rect x="359.42" y="252.2" width="2.4" height="9.8" fill="#ef5350"/><rect x="361.84" y="241.7" width="2.4" height="20.3" fill="#26a69a"/><rect x="364.26" y="241.7" width="2.4" height="0.8" fill="#ef5350"/><rect x="366.68" y="238.2" width="2.4" height="4.2" fill="#26a69a"/><rect x="369.10" y="238.2" width="2.4" height="1.4" fill="#ef5350"/><rect x="371.52" y="238.2" width="2.4" height="1.4" fill="#26a69a"/><rect x="373.94" y="231.9" width="2.4" height="6.3" fill="#26a69a"/><rect x="376.36" y="231.9" width="2.4" height="2.8" fill="#ef5350"/><rect x="378.78" y="234.0" width="2.4" height="0.8" fill="#26a69a"/><rect x="381.20" y="234.0" width="2.4" height="3.5" fill="#ef5350"/><rect x="383.62" y="221.4" width="2.4" height="16.1" fill="#26a69a"/><rect x="386.04" y="203.3" width="2.4" height="18.2" fill="#26a69a"/><rect x="388.46" y="202.6" width="2.4" height="0.8" fill="#26a69a"/><rect x="390.88" y="202.6" width="2.4" height="4.9" fill="#ef5350"/><rect x="393.30" y="207.5" width="2.4" height="9.8" fill="#ef5350"/><rect x="395.72" y="214.5" width="2.4" height="2.8" fill="#26a69a"/><rect x="398.14" y="206.8" width="2.4" height="7.7" fill="#26a69a"/><rect x="400.56" y="206.8" width="2.4" height="9.1" fill="#ef5350"/><rect x="402.98" y="214.5" width="2.4" height="1.4" fill="#26a69a"/><rect x="405.40" y="214.5" width="2.4" height="1.4" fill="#ef5350"/><rect x="407.82" y="215.2" width="2.4" height="0.8" fill="#26a69a"/><rect x="410.24" y="209.6" width="2.4" height="5.6" fill="#26a69a"/><rect x="412.66" y="204.7" width="2.4" height="4.9" fill="#26a69a"/><rect x="415.08" y="201.2" width="2.4" height="3.5" fill="#26a69a"/><rect x="417.50" y="201.2" width="2.4" height="6.3" fill="#ef5350"/><rect x="419.92" y="207.5" width="2.4" height="4.2" fill="#ef5350"/><rect x="422.34" y="210.3" width="2.4" height="1.4" fill="#26a69a"/><rect x="424.76" y="210.3" width="2.4" height="2.1" fill="#ef5350"/><rect x="427.18" y="203.3" width="2.4" height="9.1" fill="#26a69a"/><rect x="429.60" y="195.6" width="2.4" height="7.7" fill="#26a69a"/><rect x="432.02" y="168.9" width="2.4" height="26.4" fill="#26a69a"/><rect x="434.44" y="163.3" width="2.4" height="5.7" fill="#26a69a"/><rect x="436.86" y="163.3" width="2.4" height="4.4" fill="#ef5350"/><rect x="439.28" y="160.2" width="2.4" height="7.5" fill="#26a69a"/><rect x="441.70" y="157.0" width="2.4" height="3.1" fill="#26a69a"/><rect x="444.12" y="148.8" width="2.4" height="8.2" fill="#26a69a"/><rect x="446.54" y="147.0" width="2.4" height="1.9" fill="#26a69a"/><rect x="448.96" y="147.0" width="2.4" height="20.7" fill="#ef5350"/><rect x="451.38" y="167.7" width="2.4" height="12.6" fill="#ef5350"/><rect x="453.80" y="168.9" width="2.4" height="11.3" fill="#26a69a"/><rect x="456.22" y="167.1" width="2.4" height="1.9" fill="#26a69a"/><rect x="458.64" y="167.1" width="2.4" height="4.4" fill="#ef5350"/><rect x="461.06" y="171.5" width="2.4" height="6.3" fill="#ef5350"/><rect x="463.48" y="172.7" width="2.4" height="5.0" fill="#26a69a"/><rect x="465.90" y="162.7" width="2.4" height="10.1" fill="#26a69a"/><rect x="468.32" y="162.7" width="2.4" height="3.8" fill="#ef5350"/><rect x="470.74" y="166.4" width="2.4" height="2.5" fill="#ef5350"/><rect x="473.16" y="168.9" width="2.4" height="22.6" fill="#ef5350"/><rect x="475.58" y="191.6" width="2.4" height="6.9" fill="#ef5350"/><rect x="478.00" y="188.4" width="2.4" height="10.1" fill="#26a69a"/><rect x="480.42" y="185.9" width="2.4" height="2.5" fill="#26a69a"/><rect x="482.84" y="185.9" width="2.4" height="5.7" fill="#ef5350"/><rect x="485.26" y="176.5" width="2.4" height="15.1" fill="#26a69a"/><rect x="487.68" y="176.5" width="2.4" height="3.8" fill="#ef5350"/><rect x="490.10" y="180.3" width="2.4" height="18.2" fill="#ef5350"/><rect x="492.52" y="198.5" width="2.4" height="9.4" fill="#ef5350"/><rect x="494.94" y="201.0" width="2.4" height="6.9" fill="#26a69a"/><rect x="497.36" y="201.0" width="2.4" height="9.4" fill="#ef5350"/><rect x="499.78" y="209.9" width="2.4" height="71.6" fill="#ef5350"/><rect x="502.20" y="265.2" width="2.4" height="16.3" fill="#26a69a"/><rect x="504.62" y="265.2" width="2.4" height="40.8" fill="#ef5350"/><rect x="507.04" y="275.2" width="2.4" height="30.8" fill="#26a69a"/><rect x="509.46" y="271.5" width="2.4" height="3.8" fill="#26a69a"/><rect x="511.88" y="265.2" width="2.4" height="6.3" fill="#26a69a"/><rect x="514.30" y="252.6" width="2.4" height="12.6" fill="#26a69a"/><rect x="516.72" y="248.8" width="2.4" height="3.8" fill="#26a69a"/><rect x="519.14" y="248.8" width="2.4" height="3.1" fill="#ef5350"/><rect x="521.56" y="252.0" width="2.4" height="36.4" fill="#ef5350"/><rect x="523.98" y="267.7" width="2.4" height="20.7" fill="#26a69a"/><rect x="526.40" y="267.7" width="2.4" height="5.0" fill="#ef5350"/><rect x="528.82" y="272.7" width="2.4" height="11.9" fill="#ef5350"/><rect x="531.24" y="284.6" width="2.4" height="5.0" fill="#ef5350"/><rect x="533.66" y="263.3" width="2.4" height="26.4" fill="#26a69a"/><rect x="536.08" y="263.3" width="2.4" height="13.8" fill="#ef5350"/><rect x="538.50" y="260.2" width="2.4" height="17.0" fill="#26a69a"/><rect x="540.92" y="260.2" width="2.4" height="0.8" fill="#ef5350"/><rect x="543.34" y="260.8" width="2.4" height="17.6" fill="#ef5350"/><rect x="545.76" y="277.1" width="2.4" height="1.3" fill="#26a69a"/><rect x="548.18" y="277.1" width="2.4" height="10.7" fill="#ef5350"/><rect x="550.60" y="264.5" width="2.4" height="23.2" fill="#26a69a"/><rect x="553.02" y="264.5" width="2.4" height="10.1" fill="#ef5350"/><rect x="555.44" y="274.6" width="2.4" height="23.9" fill="#ef5350"/><rect x="557.86" y="298.5" width="2.4" height="3.8" fill="#ef5350"/><rect x="560.28" y="284.0" width="2.4" height="18.2" fill="#26a69a"/><rect x="562.70" y="283.4" width="2.4" height="0.8" fill="#26a69a"/><rect x="565.12" y="283.4" width="2.4" height="2.5" fill="#ef5350"/><rect x="567.54" y="285.9" width="2.4" height="25.8" fill="#ef5350"/><rect x="569.96" y="311.0" width="2.4" height="17.9" fill="#ef5350"/><rect x="572.38" y="328.9" width="2.4" height="18.6" fill="#ef5350"/><rect x="574.80" y="347.4" width="2.4" height="34.5" fill="#ef5350"/><rect x="577.22" y="350.8" width="2.4" height="31.2" fill="#26a69a"/><rect x="579.64" y="350.8" width="2.4" height="4.0" fill="#ef5350"/><rect x="582.06" y="340.1" width="2.4" height="14.6" fill="#26a69a"/><rect x="584.48" y="336.2" width="2.4" height="4.0" fill="#26a69a"/><rect x="586.90" y="336.2" width="2.4" height="14.6" fill="#ef5350"/><rect x="589.32" y="350.8" width="2.4" height="4.6" fill="#ef5350"/><rect x="591.74" y="355.4" width="2.4" height="9.9" fill="#ef5350"/><rect x="594.16" y="349.4" width="2.4" height="15.9" fill="#26a69a"/><rect x="596.58" y="342.1" width="2.4" height="7.3" fill="#26a69a"/><rect x="599.00" y="342.1" width="2.4" height="8.6" fill="#ef5350"/><rect x="601.42" y="350.8" width="2.4" height="6.6" fill="#ef5350"/><rect x="603.84" y="356.1" width="2.4" height="1.3" fill="#26a69a"/><rect x="606.26" y="356.1" width="2.4" height="2.7" fill="#ef5350"/><rect x="608.68" y="348.1" width="2.4" height="10.6" fill="#26a69a"/><rect x="611.10" y="348.1" width="2.4" height="13.3" fill="#ef5350"/><rect x="613.52" y="361.4" width="2.4" height="4.0" fill="#ef5350"/><rect x="615.94" y="317.6" width="2.4" height="47.7" fill="#26a69a"/><rect x="618.36" y="310.2" width="2.4" height="7.3" fill="#26a69a"/><rect x="620.78" y="300.3" width="2.4" height="9.9" fill="#26a69a"/><rect x="623.20" y="300.3" width="2.4" height="1.3" fill="#ef5350"/><rect x="625.62" y="294.3" width="2.4" height="7.3" fill="#26a69a"/><rect x="628.04" y="294.3" width="2.4" height="1.3" fill="#ef5350"/><rect x="630.46" y="295.6" width="2.4" height="8.6" fill="#ef5350"/><rect x="632.88" y="282.4" width="2.4" height="21.9" fill="#26a69a"/><rect x="635.30" y="278.4" width="2.4" height="4.0" fill="#26a69a"/><rect x="637.72" y="278.4" width="2.4" height="2.7" fill="#ef5350"/><rect x="640.14" y="281.1" width="2.4" height="4.0" fill="#ef5350"/><rect x="642.56" y="281.1" width="2.4" height="4.0" fill="#26a69a"/><rect x="644.98" y="281.1" width="2.4" height="0.8" fill="#ef5350"/><rect x="647.40" y="281.7" width="2.4" height="11.3" fill="#ef5350"/><rect x="649.82" y="283.7" width="2.4" height="9.3" fill="#26a69a"/><rect x="652.24" y="283.7" width="2.4" height="9.3" fill="#ef5350"/><rect x="654.66" y="275.7" width="2.4" height="17.2" fill="#26a69a"/><rect x="657.08" y="275.7" width="2.4" height="8.0" fill="#ef5350"/><rect x="659.50" y="283.7" width="2.4" height="6.6" fill="#ef5350"/><rect x="661.92" y="289.0" width="2.4" height="1.3" fill="#26a69a"/><rect x="664.34" y="289.0" width="2.4" height="2.7" fill="#ef5350"/><rect x="666.76" y="291.7" width="2.4" height="8.6" fill="#ef5350"/><rect x="669.18" y="300.3" width="2.4" height="11.3" fill="#ef5350"/><rect x="671.60" y="301.6" width="2.4" height="9.9" fill="#26a69a"/><rect x="674.02" y="299.6" width="2.4" height="2.0" fill="#26a69a"/><rect x="676.44" y="291.0" width="2.4" height="8.6" fill="#26a69a"/><rect x="678.86" y="291.0" width="2.4" height="2.0" fill="#ef5350"/><rect x="681.28" y="250.5" width="2.4" height="42.4" fill="#26a69a"/><rect x="683.70" y="250.5" width="2.4" height="2.7" fill="#ef5350"/><rect x="686.12" y="242.6" width="2.4" height="10.6" fill="#26a69a"/><rect x="688.54" y="236.0" width="2.4" height="6.6" fill="#26a69a"/><rect x="690.96" y="236.0" width="2.4" height="8.0" fill="#ef5350"/><rect x="693.38" y="241.3" width="2.4" height="2.7" fill="#26a69a"/><rect x="695.80" y="241.3" width="2.4" height="6.6" fill="#ef5350"/><rect x="698.22" y="241.3" width="2.4" height="6.6" fill="#26a69a"/><rect x="700.64" y="241.5" width="2.4" height="4.6" fill="#26a69a"/><rect x="703.06" y="241.5" width="2.4" height="20.0" fill="#ef5350"/><rect x="705.48" y="258.4" width="2.4" height="3.1" fill="#26a69a"/><rect x="707.90" y="252.2" width="2.4" height="6.1" fill="#26a69a"/><rect x="710.32" y="252.2" width="2.4" height="6.1" fill="#ef5350"/><rect x="712.74" y="256.1" width="2.4" height="2.3" fill="#26a69a"/><rect x="715.16" y="256.1" width="2.4" height="3.1" fill="#ef5350"/><rect x="717.58" y="240.7" width="2.4" height="18.4" fill="#26a69a"/><rect x="720.00" y="227.6" width="2.4" height="13.1" fill="#26a69a"/><rect x="722.42" y="227.6" width="2.4" height="2.3" fill="#ef5350"/><rect x="724.84" y="229.9" width="2.4" height="14.6" fill="#ef5350"/><rect x="727.26" y="244.5" width="2.4" height="1.5" fill="#ef5350"/><rect x="729.68" y="246.1" width="2.4" height="4.6" fill="#ef5350"/><rect x="732.10" y="250.7" width="2.4" height="24.6" fill="#ef5350"/><rect x="734.52" y="268.3" width="2.4" height="6.9" fill="#26a69a"/><rect x="736.94" y="265.3" width="2.4" height="3.1" fill="#26a69a"/><rect x="739.36" y="265.3" width="2.4" height="33.0" fill="#ef5350"/><rect x="741.78" y="287.5" width="2.4" height="10.8" fill="#26a69a"/><rect x="744.20" y="287.5" width="2.4" height="20.0" fill="#ef5350"/><rect x="746.62" y="284.5" width="2.4" height="23.0" fill="#26a69a"/><rect x="749.04" y="283.7" width="2.4" height="0.8" fill="#26a69a"/><rect x="751.46" y="279.9" width="2.4" height="3.8" fill="#26a69a"/><rect x="753.88" y="244.5" width="2.4" height="35.3" fill="#26a69a"/><rect x="756.30" y="244.5" width="2.4" height="6.1" fill="#ef5350"/><rect x="758.72" y="247.6" width="2.4" height="3.1" fill="#26a69a"/><rect x="761.14" y="247.6" width="2.4" height="7.7" fill="#ef5350"/><rect x="763.56" y="254.5" width="2.4" height="0.8" fill="#26a69a"/><rect x="765.98" y="239.2" width="2.4" height="15.4" fill="#26a69a"/><rect x="768.40" y="239.2" width="2.4" height="13.1" fill="#ef5350"/><rect x="770.82" y="252.2" width="2.4" height="12.3" fill="#ef5350"/><rect x="773.24" y="262.2" width="2.4" height="2.3" fill="#26a69a"/><rect x="775.66" y="262.2" width="2.4" height="8.4" fill="#ef5350"/><rect x="778.08" y="269.9" width="2.4" height="0.8" fill="#26a69a"/><rect x="780.50" y="261.4" width="2.4" height="8.4" fill="#26a69a"/><rect x="782.92" y="245.3" width="2.4" height="16.1" fill="#26a69a"/><rect x="785.34" y="244.5" width="2.4" height="0.8" fill="#26a69a"/><rect x="787.76" y="244.5" width="2.4" height="3.8" fill="#ef5350"/><rect x="790.18" y="238.4" width="2.4" height="10.0" fill="#26a69a"/><rect x="792.60" y="232.3" width="2.4" height="6.1" fill="#26a69a"/><rect x="795.02" y="231.5" width="2.4" height="0.8" fill="#26a69a"/><rect x="797.44" y="231.5" width="2.4" height="13.1" fill="#ef5350"/><rect x="799.86" y="224.6" width="2.4" height="20.0" fill="#26a69a"/><rect x="802.28" y="224.6" width="2.4" height="3.1" fill="#ef5350"/><rect x="804.70" y="227.6" width="2.4" height="2.3" fill="#ef5350"/><rect x="807.12" y="229.9" width="2.4" height="9.2" fill="#ef5350"/><rect x="809.54" y="239.2" width="2.4" height="1.5" fill="#ef5350"/><rect x="811.96" y="240.7" width="2.4" height="6.9" fill="#ef5350"/><rect x="814.38" y="247.6" width="2.4" height="2.3" fill="#ef5350"/><rect x="816.80" y="235.3" width="2.4" height="14.6" fill="#26a69a"/><rect x="819.22" y="219.2" width="2.4" height="16.1" fill="#26a69a"/><rect x="821.64" y="219.2" width="2.4" height="13.8" fill="#ef5350"/><rect x="824.06" y="233.0" width="2.4" height="3.8" fill="#ef5350"/><rect x="826.48" y="235.3" width="2.4" height="1.5" fill="#26a69a"/><rect x="828.90" y="235.3" width="2.4" height="36.1" fill="#ef5350"/><rect x="831.32" y="269.9" width="2.4" height="1.5" fill="#26a69a"/><rect x="833.74" y="269.9" width="2.4" height="9.2" fill="#ef5350"/><rect x="836.16" y="271.4" width="2.4" height="7.7" fill="#26a69a"/><rect x="838.58" y="271.4" width="2.4" height="6.9" fill="#ef5350"/><rect x="841.00" y="266.8" width="2.4" height="11.5" fill="#26a69a"/><rect x="843.42" y="259.1" width="2.4" height="7.7" fill="#26a69a"/><rect x="845.84" y="257.6" width="2.4" height="1.5" fill="#26a69a"/><rect x="848.26" y="242.2" width="2.4" height="15.4" fill="#26a69a"/><rect x="850.68" y="242.2" width="2.4" height="9.2" fill="#ef5350"/><rect x="853.10" y="251.5" width="2.4" height="9.2" fill="#ef5350"/><rect x="855.52" y="260.7" width="2.4" height="13.8" fill="#ef5350"/><rect x="857.94" y="274.5" width="2.4" height="14.6" fill="#ef5350"/><rect x="860.36" y="289.9" width="2.4" height="67.0" fill="#ef5350"/><rect x="862.78" y="341.2" width="2.4" height="16.7" fill="#26a69a"/><rect x="865.20" y="340.1" width="2.4" height="1.0" fill="#26a69a"/><rect x="867.62" y="340.1" width="2.4" height="15.7" fill="#ef5350"/><rect x="870.04" y="355.8" width="2.4" height="1.0" fill="#ef5350"/><rect x="872.46" y="356.9" width="2.4" height="15.7" fill="#ef5350"/><rect x="874.88" y="357.9" width="2.4" height="14.7" fill="#26a69a"/><rect x="877.30" y="357.9" width="2.4" height="6.3" fill="#ef5350"/><rect x="879.72" y="352.7" width="2.4" height="11.5" fill="#26a69a"/><rect x="882.14" y="343.3" width="2.4" height="9.4" fill="#26a69a"/><rect x="884.56" y="334.9" width="2.4" height="8.4" fill="#26a69a"/><rect x="886.98" y="334.9" width="2.4" height="15.7" fill="#ef5350"/><rect x="889.40" y="350.6" width="2.4" height="3.1" fill="#ef5350"/><rect x="891.82" y="353.7" width="2.4" height="4.2" fill="#ef5350"/><rect x="894.24" y="357.9" width="2.4" height="15.7" fill="#ef5350"/><rect x="896.66" y="367.3" width="2.4" height="6.3" fill="#26a69a"/><rect x="899.08" y="366.3" width="2.4" height="1.0" fill="#26a69a"/><rect x="901.50" y="366.3" width="2.4" height="12.6" fill="#ef5350"/><rect x="903.92" y="378.9" width="2.4" height="18.8" fill="#ef5350"/><rect x="906.34" y="375.7" width="2.4" height="22.0" fill="#26a69a"/><rect x="908.76" y="361.1" width="2.4" height="14.7" fill="#26a69a"/><rect x="911.18" y="361.1" width="2.4" height="4.2" fill="#ef5350"/><rect x="913.60" y="365.2" width="2.4" height="18.8" fill="#ef5350"/><rect x="916.02" y="383.4" width="2.4" height="31.8" fill="#ef5350"/><rect x="918.44" y="401.8" width="2.4" height="13.4" fill="#26a69a"/><rect x="920.86" y="401.8" width="2.4" height="50.3" fill="#ef5350"/><rect x="923.28" y="420.2" width="2.4" height="31.8" fill="#26a69a"/><rect x="925.70" y="412.7" width="2.4" height="7.5" fill="#26a69a"/><rect x="928.12" y="412.7" width="2.4" height="34.3" fill="#ef5350"/><rect x="930.54" y="433.6" width="2.4" height="13.4" fill="#26a69a"/><rect x="932.96" y="433.6" width="2.4" height="10.1" fill="#ef5350"/><rect x="935.38" y="425.2" width="2.4" height="18.4" fill="#26a69a"/><rect x="937.80" y="419.4" width="2.4" height="5.9" fill="#26a69a"/><rect x="940.22" y="419.4" width="2.4" height="0.8" fill="#ef5350"/><rect x="942.64" y="418.5" width="2.4" height="33.5" fill="#ef5350"/><rect x="945.06" y="447.0" width="2.4" height="5.0" fill="#26a69a"/><rect x="947.48" y="447.0" width="2.4" height="5.0" fill="#ef5350"/><rect x="949.90" y="452.0" width="2.4" height="34.3" fill="#ef5350"/></g>
<line x1="22.5" y1="293" x2="1174.7" y2="293" stroke="#1b6fc4" stroke-width="1.7"/>
<line x1="22.5" y1="451.4" x2="1174.7" y2="451.4" stroke="#1b6fc4" stroke-width="1.7"/>
<line x1="22.5" y1="486.3" x2="1174.7" y2="486.3" stroke="#ef5350" stroke-width="1" stroke-dasharray="1 1.4" stroke-opacity="0.6"/>
<g class="ax">
<text x="1182.2" y="73.3" textLength="37.4" lengthAdjust="spacingAndGlyphs">70000.00</text>
<text x="1182.2" y="101.6" textLength="37.4" lengthAdjust="spacingAndGlyphs">68000.00</text>
<text x="1182.2" y="129.8" textLength="37.4" lengthAdjust="spacingAndGlyphs">66000.00</text>
<text x="1182.2" y="158.1" textLength="37.4" lengthAdjust="spacingAndGlyphs">64000.00</text>
<text x="1182.2" y="186.4" textLength="37.4" lengthAdjust="spacingAndGlyphs">62000.00</text>
<text x="1182.2" y="214.7" textLength="37.4" lengthAdjust="spacingAndGlyphs">60000.00</text>
<text x="1182.2" y="242.9" textLength="37.4" lengthAdjust="spacingAndGlyphs">58000.00</text>
<text x="1182.2" y="271.2" textLength="37.4" lengthAdjust="spacingAndGlyphs">56000.00</text>
<text x="1182.2" y="327.8" textLength="37.4" lengthAdjust="spacingAndGlyphs">52000.00</text>
<text x="1182.2" y="356.1" textLength="37.4" lengthAdjust="spacingAndGlyphs">50000.00</text>
<text x="1182.2" y="384.3" textLength="37.4" lengthAdjust="spacingAndGlyphs">48000.00</text>
<text x="1182.2" y="412.6" textLength="37.4" lengthAdjust="spacingAndGlyphs">46000.00</text>
<text x="1182.2" y="440.9" textLength="37.4" lengthAdjust="spacingAndGlyphs">44000.00</text>
<text x="1182.2" y="469.1" textLength="37.4" lengthAdjust="spacingAndGlyphs">42000.00</text>
<text x="1182.2" y="525.7" textLength="37.4" lengthAdjust="spacingAndGlyphs">38000.00</text>
<text x="1182.2" y="554.0" textLength="37.4" lengthAdjust="spacingAndGlyphs">36000.00</text>
<text x="1182.2" y="582.2" textLength="37.4" lengthAdjust="spacingAndGlyphs">34000.00</text>
<text x="1182.2" y="610.5" textLength="37.4" lengthAdjust="spacingAndGlyphs">32000.00</text>
<text x="1182.2" y="638.8" textLength="37.4" lengthAdjust="spacingAndGlyphs">30000.00</text>
</g>
<rect x="1187.2" y="47.1" width="27.8" height="14.6" rx="3" fill="#fff" stroke="#d9d9d9" stroke-width="1"/>
<text x="1190.6" y="58" font-size="10" fill="#333" textLength="20.6" lengthAdjust="spacingAndGlyphs">USDT</text>
<rect x="1174.2" y="286.8" width="50.4" height="13" rx="1.5" fill="#1976d2"/>
<line x1="1174.2" y1="293.1" x2="1178" y2="293.1" stroke="#fff" stroke-width="1" stroke-opacity="0.8"/>
<text x="1181.9" y="297.1" font-size="10.2" font-weight="bold" fill="#fff" textLength="37.9" lengthAdjust="spacingAndGlyphs">54173.36</text>
<rect x="1174.2" y="445.2" width="50.4" height="13" rx="1.5" fill="#1976d2"/>
<line x1="1174.2" y1="451.5" x2="1178" y2="451.5" stroke="#fff" stroke-width="1" stroke-opacity="0.8"/>
<text x="1181.9" y="455.5" font-size="10.2" font-weight="bold" fill="#fff" textLength="37.9" lengthAdjust="spacingAndGlyphs">42968.32</text>
<rect x="1174.2" y="479.2" width="50.5" height="24.4" rx="1.5" fill="#ef5350"/>
<line x1="1174.2" y1="486.3" x2="1178" y2="486.3" stroke="#fff" stroke-width="1" stroke-opacity="0.8"/>
<text x="1181.9" y="490.3" font-size="10.2" font-weight="bold" fill="#fff" textLength="37.9" lengthAdjust="spacingAndGlyphs">40543.94</text>
<text x="1181.9" y="501" font-size="9.8" fill="#fff" fill-opacity="0.92" textLength="22.5" lengthAdjust="spacingAndGlyphs">41:40</text>
<g class="ax" text-anchor="middle">
<text x="31.1" y="671.2" textLength="8.9" lengthAdjust="spacingAndGlyphs">17</text>
<text x="104.0" y="671.2" textLength="9" lengthAdjust="spacingAndGlyphs">22</text>
<text x="176.6" y="671.2" textLength="9" lengthAdjust="spacingAndGlyphs">27</text>
<text x="249.2" y="671.2" textLength="15.5" lengthAdjust="spacingAndGlyphs">Apr</text>
<text x="321.8" y="671.2" textLength="4.3" lengthAdjust="spacingAndGlyphs">6</text>
<text x="409.3" y="671.2" textLength="8.6" lengthAdjust="spacingAndGlyphs">12</text>
<text x="510.8" y="671.2" textLength="9" lengthAdjust="spacingAndGlyphs">19</text>
<text x="612.3" y="671.2" textLength="9" lengthAdjust="spacingAndGlyphs">26</text>
<text x="685.0" y="671.2" textLength="15" lengthAdjust="spacingAndGlyphs">Mei</text>
<text x="750.2" y="671.2" textLength="22" lengthAdjust="spacingAndGlyphs">12:00</text>
<text x="815.6" y="671.2" textLength="9" lengthAdjust="spacingAndGlyphs">10</text>
<text x="917.3" y="671.2" textLength="8.7" lengthAdjust="spacingAndGlyphs">17</text>
<text x="1018.9" y="671.2" textLength="8.7" lengthAdjust="spacingAndGlyphs">24</text>
<text x="1134.8" y="671.2" textLength="16" lengthAdjust="spacingAndGlyphs">Jun</text>
</g>
<rect x="22.5" y="42.2" width="1206.3" height="636.8" fill="none" stroke="#4a4a4a" stroke-width="1.4"/>
<g class="lbl">
<text x="1039.2" y="166.5" fill="#1b5e20" textLength="101.1" lengthAdjust="spacingAndGlyphs">RESISTANCE</text>
<text x="1036.8" y="231.2" fill="#1b5e20" textLength="101.1" lengthAdjust="spacingAndGlyphs">RESISTANCE</text>
<text x="1036.1" y="374.2" fill="#d2521a" textLength="84.3" lengthAdjust="spacingAndGlyphs">SBR ZONE</text>
<text x="1036.5" y="511.3" fill="#e8801e" textLength="83.9" lengthAdjust="spacingAndGlyphs">RBS ZONE</text>
<text x="1036.5" y="621.3" fill="#a61c1c" textLength="78.7" lengthAdjust="spacingAndGlyphs">SUPPORT</text>
</g>
<g class="hd">
<text x="22.3" y="21.4" class="b" textLength="70.1" lengthAdjust="spacingAndGlyphs">IntradayDotMy</text>
<text x="96.2" y="21.4" textLength="253.3" lengthAdjust="spacingAndGlyphs">menerbit di TradingView.com, Mei 19, 2021 11:18:21 +08</text>
<text x="22.3" y="34.6" class="b" textLength="106.1" lengthAdjust="spacingAndGlyphs">BINANCE:BTCUSDT, 240</text>
<text x="134" y="34.6" textLength="40" lengthAdjust="spacingAndGlyphs">40543.93</text>
<path d="M176.9 28 L184.3 28 L180.6 34.9 Z" fill="#e53935"/>
<text x="188" y="34.6" textLength="82.3" lengthAdjust="spacingAndGlyphs">−2305.85 (−5.38%)</text>
<text x="273.5" y="34.6" class="b" textLength="10" lengthAdjust="spacingAndGlyphs">O:</text>
<text x="284.3" y="34.6" class="rd" textLength="41.5" lengthAdjust="spacingAndGlyphs">42849.78</text>
<text x="329.7" y="34.6" class="b" textLength="9.3" lengthAdjust="spacingAndGlyphs">H:</text>
<text x="339.7" y="34.6" class="rd" textLength="41.5" lengthAdjust="spacingAndGlyphs">43584.90</text>
<text x="385.2" y="34.6" class="b" textLength="6.6" lengthAdjust="spacingAndGlyphs">L:</text>
<text x="393" y="34.6" class="rd" textLength="41" lengthAdjust="spacingAndGlyphs">40125.00</text>
<text x="438" y="34.6" class="b" textLength="7.9" lengthAdjust="spacingAndGlyphs">C:</text>
<text x="446.7" y="34.6" class="rd" textLength="41.4" lengthAdjust="spacingAndGlyphs">40543.94</text>
</g>
<g>
<rect x="475" y="35.2" width="299.9" height="53.4" fill="#17365d"/>
<text x="480.2" y="79.8" font-size="49.6" font-weight="bold" fill="#fff" stroke="#fff" stroke-width="1.1" stroke-linejoin="round" textLength="151" lengthAdjust="spacingAndGlyphs">INTRA</text>
<rect x="631.4" y="39.6" width="103" height="44.4" rx="2.5" fill="#fff"/>
<text x="632.8" y="79.8" font-size="49.6" font-weight="bold" fill="#17365d" stroke="#17365d" stroke-width="1.1" stroke-linejoin="round" textLength="100.6" lengthAdjust="spacingAndGlyphs">DAY</text>
<polygon points="768.1,40 748.6,40.9 751.8,44.5 737.3,55.4 743.6,64.5 758.1,54.5 762.2,58.6" fill="#12cdd4"/>
<polygon points="740.2,83.6 746.3,65 750.4,69 765.1,59.2 771.8,68.1 757.2,78.6 760,83.6" fill="#ff19c8"/>
</g>
<g>
<path d="M26.5 699.3 C23.6 699.3 21.8 697.5 21.8 695.3 C21.8 693.2 23.4 691.6 25.6 691.4 C26.2 689.3 28.3 687.9 30.8 687.9 C33.2 687.9 35.2 689.2 35.9 691.1 C36.3 691 36.8 690.9 37.3 690.9 C39.9 690.9 41.9 692.8 41.9 695.1 C41.9 697.5 39.9 699.3 37.3 699.3 Z" fill="#2196f3"/>
<path d="M22.8 697 L29.3 692.3 L33.6 697.3 L40.8 692.3" fill="none" stroke="#fff" stroke-width="1.3" stroke-linejoin="round"/>
<circle cx="33.6" cy="697.2" r="1.1" fill="#fff"/>
<text x="44.3" y="697" font-size="9.8" fill="#333" textLength="54.4" lengthAdjust="spacingAndGlyphs">TradingView</text>
</g>
</svg></body></html>
